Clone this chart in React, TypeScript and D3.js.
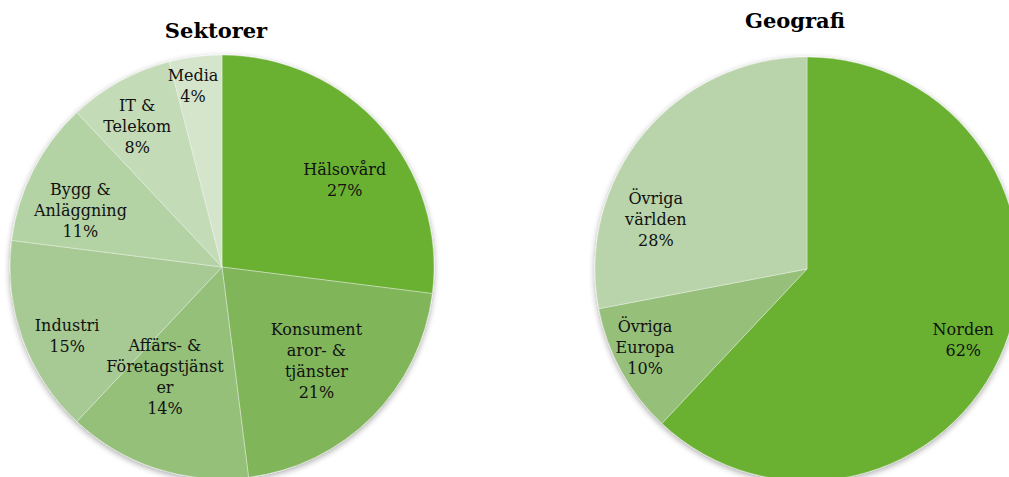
import * as d3 from "d3";
import { useEffect, useRef } from "react";

// Sektorer
const sectorNames = [
  "Hälsovård",
  "Konsument\naror- &\ntjänster",
  "Affärs- &\nFöretagstjänst\ner",
  "Industri",
  "Bygg &\nAnläggning",
  "IT &\nTelekom",
  "Media",
];
const sectorShares = [27, 21, 14, 15, 11, 8, 4];

// Geografi
const geoNames = ["Norden", "Övriga\nEuropa", "Övriga\nvärlden"];
const geoShares = [62, 10, 28];

const sectorColors = ["#6ab133", "#80b55a", "#95c07a", "#a7ca94", "#b4d3a4", "#c3dbb6", "#d5e5cc"];
const geoColors = ["#6ab133", "#96c07a", "#b9d4aa"];

// label placement: distance from centre (share of radius) and turn from the slice middle (degrees)
const sectorLabelR = [0.71, 0.63, 0.585, 0.8, 0.72, 0.775, 0.865];
const sectorLabelTurn = [6, 0, 9.4, -4.2, -5.1, -2.3, -1.9];
const geoLabelR = [0.81, 0.85, 0.75];
const geoLabelTurn = [2.9, 2.8, -21.6];

const W = 1009;
const H = 477;
const FONT = "'DejaVu Serif', Georgia, serif";

export default function App() {
  const svgRef = useRef<SVGSVGElement>(null);

  useEffect(() => {
    const svg = d3.select(svgRef.current);
    svg.selectAll("*").remove();

    const defs = svg.append("defs");
    const f = defs.append("filter").attr("id", "shadow")
      .attr("x", "-10%").attr("y", "-10%").attr("width", "120%").attr("height", "120%");
    f.append("feGaussianBlur").attr("in", "SourceAlpha").attr("stdDeviation", 3).attr("result", "b");
    f.append("feOffset").attr("in", "b").attr("dx", 0).attr("dy", 2).attr("result", "o");
    f.append("feComponentTransfer").attr("in", "o").attr("result", "s")
      .append("feFuncA").attr("type", "linear").attr("slope", 0.35);
    const m = f.append("feMerge");
    m.append("feMergeNode").attr("in", "s");
    m.append("feMergeNode").attr("in", "SourceGraphic");

    function drawPie(
      cx: number, cy: number, r: number,
      names: string[], shares: number[], colors: string[],
      labelR: number[], labelTurn: number[],
      title: string, tx: number, ty: number
    ) {
      svg.append("text")
        .attr("x", tx).attr("y", ty)
        .attr("text-anchor", "middle")
        .attr("font-family", FONT)
        .attr("font-weight", "bold")
        .attr("font-size", 21)
        .attr("fill", "#000")
        .text(title);

      const pie = d3.pie<number>().sort(null).value(d => d)(shares);
      const arc = d3.arc<d3.PieArcDatum<number>>().innerRadius(0).outerRadius(r);

      const g = svg.append("g").attr("transform", `translate(${cx},${cy})`);
      const slices = g.append("g").attr("filter", "url(#shadow)");
      slices.selectAll("path")
        .data(pie)
        .enter()
        .append("path")
        .attr("d", arc)
        .attr("fill", (d, i) => colors[i])
        .attr("stroke", "rgba(255,255,255,0.35)")
        .attr("stroke-width", 1);

      const lh = 21;
      pie.forEach((d, i) => {
        const a = (d.startAngle + d.endAngle) / 2 + (labelTurn[i] * Math.PI) / 180;
        const rr = r * labelR[i];
        const x = Math.sin(a) * rr;
        const y = -Math.cos(a) * rr;
        const lines = [...names[i].split("\n"), `${shares[i]}%`];
        const t = g.append("text")
          .attr("text-anchor", "middle")
          .attr("font-family", FONT)
          .attr("font-size", 16)
          .attr("fill", "#111");
        lines.forEach((ln, k) => {
          t.append("tspan")
            .attr("x", x)
            .attr("y", y + (k - (lines.length - 1) / 2) * lh)
            .attr("dominant-baseline", "central")
            .text(ln);
        });
      });
    }

    drawPie(222, 267, 212, sectorNames, sectorShares, sectorColors, sectorLabelR, sectorLabelTurn, "Sektorer", 216, 38);
    drawPie(807, 269, 212, geoNames, geoShares, geoColors, geoLabelR, geoLabelTurn, "Geografi", 795, 28);
  }, []);

  return (
    <svg
      ref={svgRef}
      width={W}
      height={H}
      style={{ position: "absolute", left: 0, top: 0, background: "#fff" }}
    />
  );
}
